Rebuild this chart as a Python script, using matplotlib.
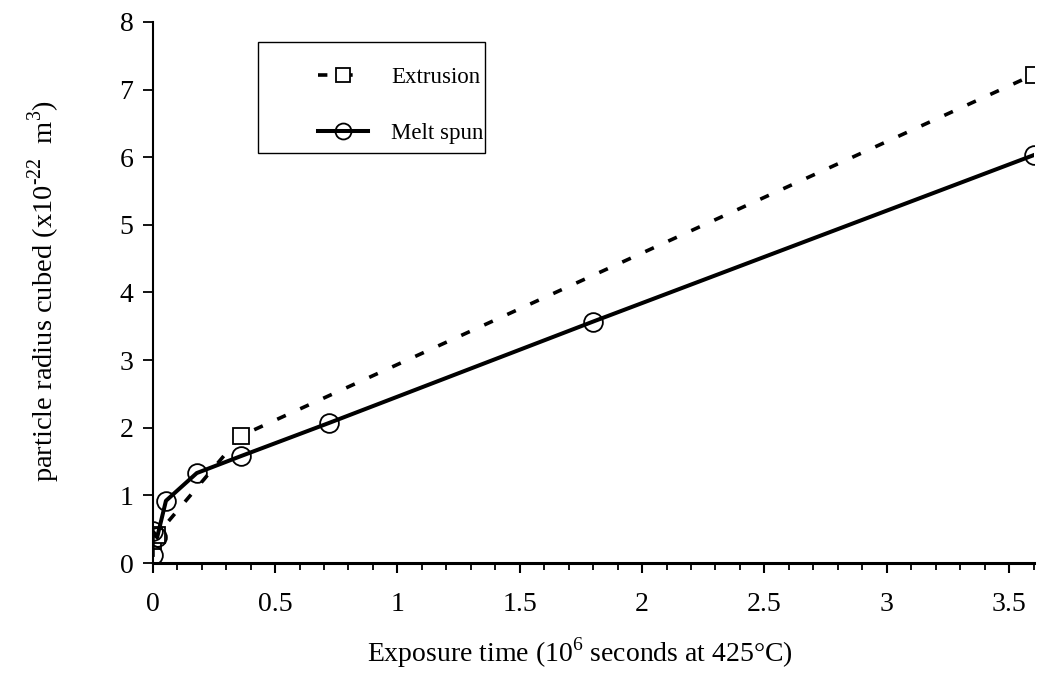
import matplotlib
matplotlib.use("Agg")
from matplotlib import pyplot as plt, ticker
from matplotlib.patches import Rectangle

plt.rcParams['font.family'] = ['Liberation Serif', 'DejaVu Serif']
plt.rcParams['mathtext.fontset'] = 'custom'
plt.rcParams['mathtext.rm'] = 'Liberation Serif'

# exposure time (10^6 s) and particle radius cubed (x10^-22 m^3)
melt_x = [0, 0, 0.018, 0.054, 0.18, 0.36, 0.72, 1.8, 3.6]
melt_y = [0.12, 0.47, 0.38, 0.92, 1.33, 1.58, 2.07, 3.57, 6.03]
extr_x = [0, 0.018, 0.36, 3.6]
extr_y = [0.33, 0.42, 1.88, 7.22]

fig = plt.figure(figsize=(10.44, 6.86), dpi=100)
ax = fig.add_axes([0.1463, 0.1793, 0.8437, 0.7887])

ax.plot(extr_x, extr_y, color='black', linestyle=(0, (2.6, 4.4)), linewidth=2.6,
        marker='s', markersize=12, markerfacecolor='white', markeredgewidth=1.3,
        label='Extrusion', zorder=2)
ax.plot(melt_x, melt_y, color='black', linestyle='-', linewidth=2.9,
        marker='o', markersize=13.5, markerfacecolor='none', markeredgewidth=1.3,
        label='Melt spun', zorder=3)

ax.set_xlim(0, 3.6)
ax.set_ylim(0, 8)
ax.xaxis.set_major_locator(ticker.MultipleLocator(0.5))
ax.xaxis.set_minor_locator(ticker.MultipleLocator(0.1))
ax.xaxis.set_major_formatter(ticker.FuncFormatter(lambda v, p: '%g' % v))
ax.yaxis.set_major_locator(ticker.MultipleLocator(1))

for s in ['top', 'right']:
    ax.spines[s].set_visible(False)
ax.spines['left'].set_linewidth(1.5)
ax.spines['bottom'].set_linewidth(2.2)
ax.tick_params(axis='x', which='major', direction='out', length=7, width=1.5,
               pad=14, labelsize=20)
ax.tick_params(axis='x', which='minor', direction='out', length=5, width=1.3)
ax.tick_params(axis='y', which='major', direction='out', length=7, width=1.3,
               pad=7, labelsize=20)

fig.text(0.042, 0.576, r'particle radius cubed (x10$^{\text{-22}}$  m$^{\text{3}}$)',
         rotation=90, ha='center', va='center', fontsize=20.5)
fig.text(0.555, 0.048, r'Exposure time (10$^{\text{6}}$ seconds at 425$\degree$C)',
         ha='center', va='center', fontsize=20)

# legend frame drawn as its own box, entries placed inside it
ax.add_patch(Rectangle((0.1196, 0.758), 0.2577, 0.205, transform=ax.transAxes,
                       fill=False, edgecolor='black', linewidth=1.0, clip_on=False))
leg = ax.legend(loc='upper left', bbox_to_anchor=(0.1875, 0.917), fontsize=16.5,
                frameon=False, handlelength=2.2, numpoints=1,
                labelspacing=1.55, borderpad=0, handletextpad=1.0,
                borderaxespad=0, markerscale=0.85)

fig.savefig('out.png', dpi=100)
